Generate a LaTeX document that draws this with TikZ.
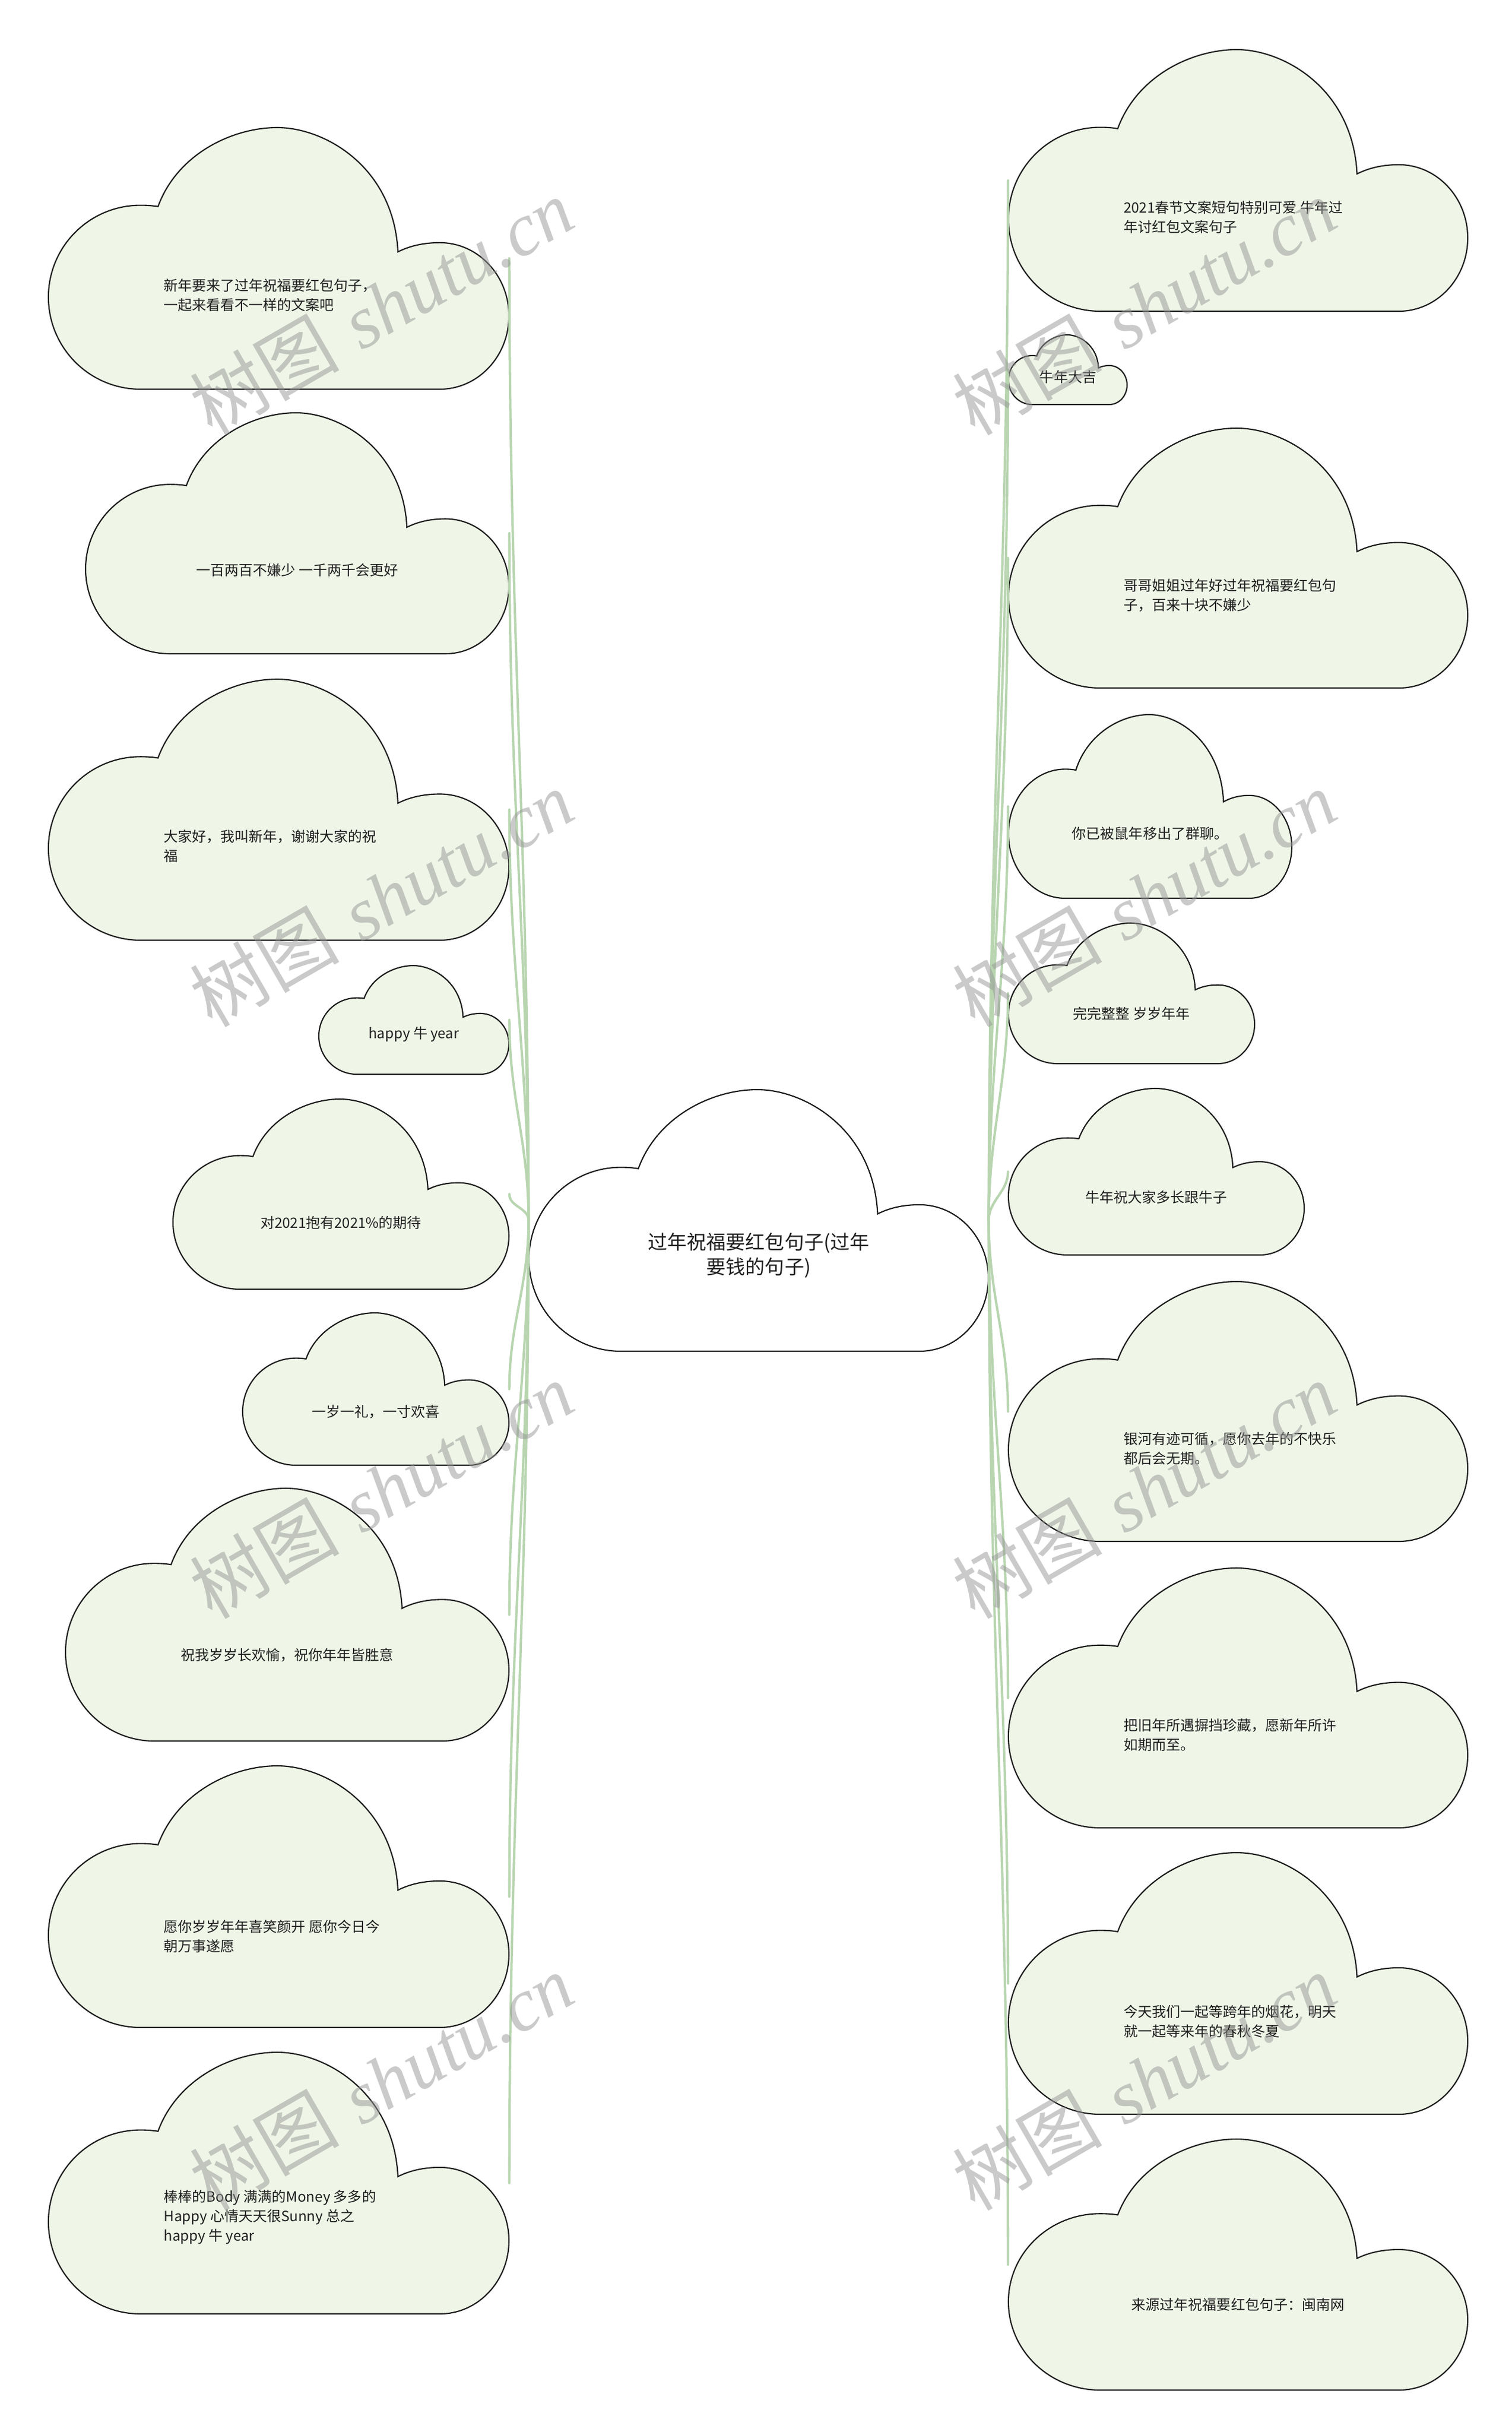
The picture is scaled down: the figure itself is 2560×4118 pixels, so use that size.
\documentclass[tikz,border=0pt]{standalone}
\usepackage{fontspec}
\newfontfamily\cjk{Noto Sans CJK SC}
\newfontfamily\wmserif{Liberation Serif}
\usetikzlibrary{fit}
\definecolor{cloudfill}{HTML}{EFF6E7}
\definecolor{cloudstroke}{HTML}{1A1A1A}
\definecolor{conncol}{HTML}{B8D5B0}
\definecolor{wmcol}{HTML}{969696}
\tikzset{
  cloudline/.style={draw=cloudstroke, line width=0.6pt, fill=cloudfill},
  rootline/.style={draw=cloudstroke, line width=0.6pt, fill=white},
  ctext/.style={font=\cjk\fontsize{6.83pt}{9.4pt}\selectfont, align=left, inner sep=0pt, text=black!88},
  stext/.style={font=\cjk\fontsize{6.83pt}{9.4pt}\selectfont, align=center, inner sep=0pt, text=black!88},
  roottext/.style={font=\cjk\fontsize{9.4pt}{12pt}\selectfont, align=center, inner sep=0pt, text=black!88},
  conn/.style={draw=conncol, line width=1.15pt, line cap=round},
  up/.style={out=90, in=-90},
  down/.style={out=-90, in=90},
  wm/.style={rotate=30, text=wmcol, text opacity=0.5, inner sep=0pt}
}
\newcommand{\mycloud}[6]{%
  \pgfmathsetmacro\mycw{#5-#3}%
  \pgfmathsetmacro\mych{#6-#4}%
  \path[#1, shift={(#3,#6)}, xscale=\mycw, yscale=-\mych]
    (0.2,0) -- (0.85,0)
    .. controls (0.9328,0) and (1,0.1254) .. (1,0.28)
    .. controls (1,0.4346) and (0.9328,0.56) .. (0.85,0.56)
    .. controls (0.815,0.56) and (0.785,0.548) .. (0.759,0.525)
    .. controls (0.75,0.85) and (0.60,1) .. (0.497,1)
    .. controls (0.40,1) and (0.28,0.90) .. (0.238,0.698)
    .. controls (0.225,0.702) and (0.212,0.703) .. (0.2,0.703)
    .. controls (0.0895,0.703) and (0,0.546) .. (0,0.352)
    .. controls (0,0.158) and (0.0895,0) .. (0.2,0) -- cycle;
  \node[fit={(#3,#4)(#5,#6)}, inner sep=0pt] (#2) {};
}
\begin{document}
\begin{tikzpicture}[x=0.01cm, y=-0.01cm]
\useasboundingbox (0,0) rectangle (2560,4118);
\fill[white] (0,0) rectangle (2560,4118);

% clouds
\mycloud{rootline}{root}{896}{1845}{1674}{2288}
\mycloud{cloudline}{l1}{82}{216}{862}{659}
\mycloud{cloudline}{l2}{145}{699}{862}{1107}
\mycloud{cloudline}{l3}{82}{1150}{862}{1592}
\mycloud{cloudline}{l4}{540}{1635}{862}{1819}
\mycloud{cloudline}{l5}{293}{1861}{862}{2183}
\mycloud{cloudline}{l6}{411}{2223}{862}{2481}
\mycloud{cloudline}{l7}{111}{2520}{862}{2948}
\mycloud{cloudline}{l8}{82}{2990}{862}{3433}
\mycloud{cloudline}{l9}{82}{3475}{862}{3918}
\mycloud{cloudline}{r1}{1708}{84}{2486}{527}
\mycloud{cloudline}{r2}{1708}{567}{1909}{685}
\mycloud{cloudline}{r3}{1708}{725}{2486}{1165}
\mycloud{cloudline}{r4}{1708}{1210}{2188}{1521}
\mycloud{cloudline}{r5}{1708}{1563}{2125}{1801}
\mycloud{cloudline}{r6}{1708}{1843}{2209}{2125}
\mycloud{cloudline}{r7}{1708}{2170}{2486}{2610}
\mycloud{cloudline}{r8}{1708}{2655}{2486}{3095}
\mycloud{cloudline}{r9}{1708}{3137}{2486}{3580}
\mycloud{cloudline}{r10}{1708}{3622}{2486}{4047}

% connectors
\begin{scope}[conn]
\draw (root.west) to[up] (l1.east);
\draw (root.west) to[up] (l2.east);
\draw (root.west) to[up] (l3.east);
\draw (root.west) to[up] (l4.east);
\draw (root.west) to[up] (l5.east);
\draw (root.west) to[down] (l6.east);
\draw (root.west) to[down] (l7.east);
\draw (root.west) to[down] (l8.east);
\draw (root.west) to[down] (l9.east);
\draw (root.east) to[up] (r1.west);
\draw (root.east) to[up] (r2.west);
\draw (root.east) to[up] (r3.west);
\draw (root.east) to[up] (r4.west);
\draw (root.east) to[up] (r5.west);
\draw (root.east) to[up] (r6.west);
\draw (root.east) to[down] (r7.west);
\draw (root.east) to[down] (r8.west);
\draw (root.east) to[down] (r9.west);
\draw (root.east) to[down] (r10.west);
\end{scope}

% texts
\node[roottext] (roott) at (1285,2126) {过年祝福要红包句子(过年\\要钱的句子)};
\node[ctext, anchor=west] (l1t) at (277,500) {新年要来了过年祝福要红包句子，\\一起来看看不一样的文案吧};
\node[stext] (l2t) at (503.5,965) {一百两百不嫌少 一千两千会更好};
\node[ctext, anchor=west] (l3t) at (277,1433) {大家好，我叫新年，谢谢大家的祝\\福};
\node[stext] (l4t) at (701,1751) {happy 牛 year};
\node[stext] (l5t) at (577.5,2070) {对2021抱有2021\%的期待};
\node[stext] (l6t) at (636.5,2391) {一岁一礼，一寸欢喜};
\node[stext] (l7t) at (486.5,2803) {祝我岁岁长欢愉，祝你年年皆胜意};
\node[ctext, anchor=west] (l8t) at (277,3279) {愿你岁岁年年喜笑颜开 愿你今日今\\朝万事遂愿};
\node[ctext, anchor=west] (l9t) at (277,3754) {棒棒的Body 满满的Money 多多的\\Happy 心情天天很Sunny 总之\\happy 牛 year};
\node[ctext, anchor=west] (r1t) at (1902.5,368) {2021春节文案短句特别可爱 牛年过\\年讨红包文案句子};
\node[stext] (r2t) at (1809,638) {牛年大吉};
\node[ctext, anchor=west] (r3t) at (1902.5,1008) {哥哥姐姐过年好过年祝福要红包句\\子，百来十块不嫌少};
\node[stext] (r4t) at (1948,1411) {你已被鼠年移出了群聊。};
\node[stext] (r5t) at (1916.5,1716) {完完整整 岁岁年年};
\node[stext] (r6t) at (1958.5,2027) {牛年祝大家多长跟牛子};
\node[ctext, anchor=west] (r7t) at (1902.5,2453) {银河有迹可循，愿你去年的不快乐\\都后会无期。};
\node[ctext, anchor=west] (r8t) at (1902.5,2938) {把旧年所遇摒挡珍藏，愿新年所许\\如期而至。};
\node[ctext, anchor=west] (r9t) at (1902.5,3423) {今天我们一起等跨年的烟花，明天\\就一起等来年的春秋冬夏};
\node[stext] (r10t) at (2097,3902) {来源过年祝福要红包句子：闽南网};

% watermarks
\foreach \wx/\wy [count=\i] in {646/519, 646/1521, 646/2523, 646/3525, 1938/519, 1938/1521, 1938/2523, 1938/3525}{
  \node[wm] (wm\i) at (\wx,\wy) {\fontsize{36pt}{40pt}\selectfont{\cjk 树图} {\wmserif\itshape shutu.cn}};
}
\end{tikzpicture}
\end{document}
